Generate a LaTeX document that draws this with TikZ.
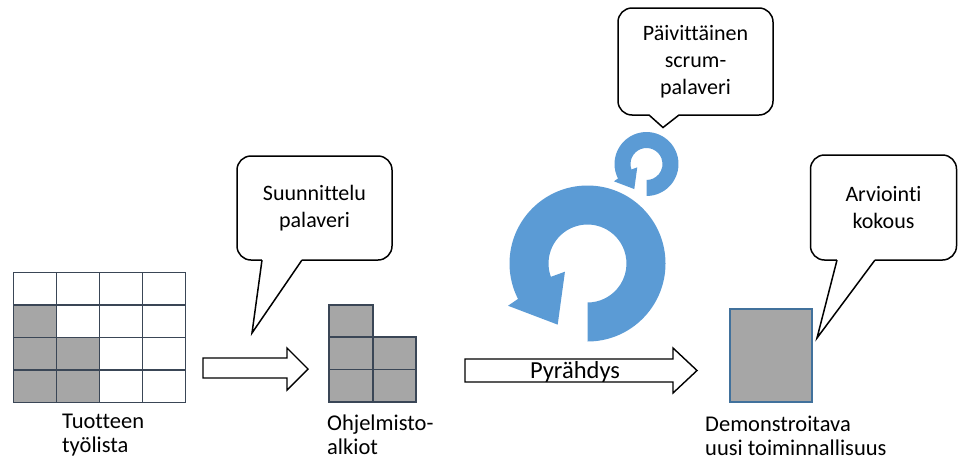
\documentclass[tikz,border=0pt]{standalone}
\usepackage{fontspec}
\setmainfont{Carlito}[Ligatures=NoCommon]
\definecolor{gridline}{HTML}{3A4656}
\definecolor{cellgrey}{HTML}{A6A6A6}
\definecolor{boxline}{HTML}{41719C}
\definecolor{cycleblue}{HTML}{5B9BD5}
\tikzset{
  cell/.style={draw=gridline, line width=1.7pt},
  calloutbox/.style={draw=black, fill=white, line width=1.5pt, rounded corners=14pt,
    inner sep=0pt, align=center, font=\fontsize{22}{27}\selectfont},
  callouttail/.style={draw=black, line width=1.5pt, line join=miter},
  blockarrow/.style={draw=black, fill=white, line width=1.4pt, line join=miter},
  % base anchor of a multi-line caption sits on its last line
  caption/.style={anchor=base west, inner sep=0pt, align=left,
    font=\fontsize{22.5}{24}\selectfont},
  cyclearrow/.pic={
    \fill[cycleblue] (-90:78pt) arc[start angle=-90, end angle=207, radius=78pt]
      -- (208:90pt) -- (244:68pt) -- (200:24pt) -- (200:39pt)
      arc[start angle=200, end angle=-90, radius=39pt] -- cycle;
  }
}
\begin{document}
\begin{tikzpicture}[x=1pt, y=-1pt]
\useasboundingbox (0,0) rectangle (958,461);
\fill[white] (0,0) rectangle (958,461);

% product backlog: 4x4 grid, grey cells in the lower left
\foreach \i/\j in {0/1, 0/2, 1/2, 0/3, 1/3}
  \fill[cellgrey] (13.5+43*\i, 272.5+32.5*\j) rectangle ++(43,32.5);
\foreach \i in {0,...,3}
  \foreach \j in {0,...,3}
    \draw[cell] (13.5+43*\i, 272.5+32.5*\j) rectangle ++(43,32.5);
\node[caption] (backlog) at (62,452) {Tuotteen\\työlista};

% first block arrow
\draw[blockarrow] (203,358) -- (287,358) -- (287,348) -- (308,369)
  -- (287,390) -- (287,378) -- (203,378) -- cycle;

% selected items
\fill[cellgrey] (329,305) rectangle (373,337);
\fill[cellgrey] (329,337) rectangle (416,402);
\draw[cell] (329,305) rectangle (373,337);
\draw[cell] (329,337) rectangle (373,369.5);
\draw[cell] (373,337) rectangle (416,369.5);
\draw[cell] (329,369.5) rectangle (373,402);
\draw[cell] (373,369.5) rectangle (416,402);
\node[caption] (items) at (327,454) {Ohjelmisto-\\alkiot};

% planning meeting callout
\node[calloutbox, minimum width=155pt, minimum height=104pt] (plan) at (314.5,208)
  {Suunnittelu\\palaveri};
\coordinate (plantip) at (252,333);
\fill[white] (262.5,258) -- (262,260) -- (plantip) -- (302,260) -- (301.5,258) -- cycle;
\draw[callouttail] (262,260) -- (plantip) -- (302,260);

% sprint arrow
\draw[blockarrow] (465,359) -- (673,359) -- (673,348) -- (697,370.5)
  -- (673,393) -- (673,382) -- (465,382) -- cycle;
\node[anchor=base, inner sep=0pt, font=\fontsize{24.5}{27}\selectfont] (sprint)
  at (575,378) {Pyrähdys};

% cycle arrows
\pic at (587.5,263.5) {cyclearrow};
\pic[scale=0.41] at (646.5,164) {cyclearrow};

% daily scrum callout
\node[calloutbox, minimum width=155pt, minimum height=107pt] (daily) at (695.5,61.5)
  {Päivittäinen\\scrum-\\palaveri};
\coordinate (dailytip) at (663,127.5);
\fill[white] (650,113) -- (649,115) -- (dailytip) -- (679,115) -- (678,113) -- cycle;
\draw[callouttail] (649,115) -- (dailytip) -- (679,115);

% increment
\draw[draw=boxline, line width=1.6pt, fill=cellgrey] (730,309) rectangle (812,402);
\node[caption] (increment) at (705,455) {Demonstroitava\\uusi toiminnallisuus};

% review meeting callout
\node[calloutbox, minimum width=146pt, minimum height=105pt] (review) at (883.5,207.5)
  {Arviointi\\kokous};
\coordinate (reviewtip) at (817,338);
\fill[white] (837.5,258) -- (837,260) -- (reviewtip) -- (875,260) -- (874.5,258) -- cycle;
\draw[callouttail] (837,260) -- (reviewtip) -- (875,260);
\end{tikzpicture}
\end{document}
